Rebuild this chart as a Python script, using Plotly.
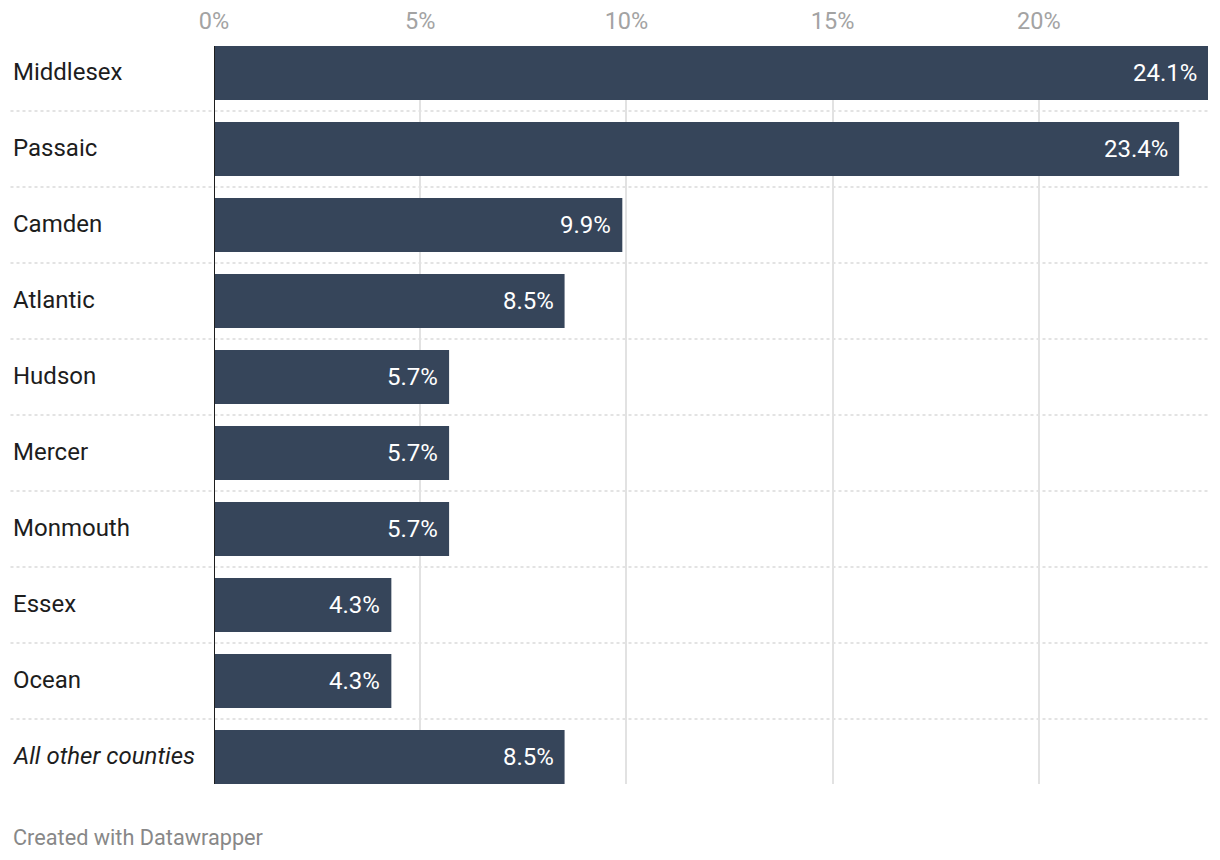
import plotly.graph_objects as go

counties = ["Middlesex", "Passaic", "Camden", "Atlantic", "Hudson", "Mercer",
            "Monmouth", "Essex", "Ocean", "All other counties"]
shares = [24.1, 23.4, 9.9, 8.5, 5.7, 5.7, 5.7, 4.3, 4.3, 8.5]
value_labels = ["24.1%", "23.4%", "9.9%", "8.5%", "5.7%", "5.7%", "5.7%", "4.3%", "4.3%", "8.5%"]
tick_vals = [0, 5, 10, 15, 20]
tick_text = ["0%", "5%", "10%", "15%", "20%"]

# page body has an 8px margin, so the figure is drawn 8px smaller and shifted
W, H = 1212, 852
ML, MR, MT, MB = 206, 12, 38, 76
pw = W - ML - MR
ph = H - MT - MB
LABEL_X = (2.5 - ML) / pw

fig = go.Figure()
fig.add_trace(go.Bar(
    y=counties, x=shares, orientation="h",
    marker=dict(color="#36455a", line=dict(width=0)),
    width=0.71, hoverinfo="skip",
))

shapes = []
for i in range(len(counties) - 1):
    shapes.append(dict(type="line", xref="paper", yref="y",
                       x0=LABEL_X, x1=1.0, y0=i + 0.5, y1=i + 0.5,
                       line=dict(color="#c8c8c8", width=1.2, dash="dot"), layer="below"))
shapes.append(dict(type="line", xref="x", yref="paper", x0=0, x1=0, y0=0, y1=1,
                   line=dict(color="#1e1e1e", width=2), layer="above"))

annotations = []
for c in counties:
    txt = f"<i>{c}</i>" if c == "All other counties" else c
    annotations.append(dict(xref="paper", yref="y", x=LABEL_X, y=c, yshift=1,
                            text=txt, showarrow=False, xanchor="left", yanchor="middle",
                            font=dict(family="Roboto", size=24, color="#1d1d1d")))
for c, v, t in zip(counties, shares, value_labels):
    annotations.append(dict(xref="x", yref="y", x=v, y=c, text=t, showarrow=False,
                            xanchor="right", yanchor="middle", xshift=-9,
                            font=dict(family="Roboto", size=24, color="#ffffff")))
annotations.append(dict(xref="paper", yref="paper", x=LABEL_X,
                        y=-(829 - (H - MB)) / ph,
                        text="Created with Datawrapper", showarrow=False,
                        xanchor="left", yanchor="middle",
                        font=dict(family="Roboto", size=21.7, color="#888888")))

fig.update_layout(
    width=W, height=H,
    margin=dict(l=ML, r=MR, t=MT, b=MB, pad=0, autoexpand=False),
    paper_bgcolor="white", plot_bgcolor="white",
    showlegend=False,
    shapes=shapes, annotations=annotations,
    font=dict(family="Roboto"),
    xaxis=dict(side="top", range=[0, 24.1], tickvals=tick_vals, ticktext=tick_text,
               showgrid=True, gridcolor="#e2e2e2", gridwidth=2, automargin=False,
               zeroline=False, showline=False, ticks="", ticklabelstandoff=11,
               tickfont=dict(family="Roboto", size=23.5, color="#a3a3a3"),
               fixedrange=True),
    yaxis=dict(categoryorder="array", categoryarray=counties, automargin=False,
               range=[9.355, -0.355], showticklabels=False, showgrid=False,
               zeroline=False, showline=False, ticks="", fixedrange=True),
)

fig.write_html("out.html")
